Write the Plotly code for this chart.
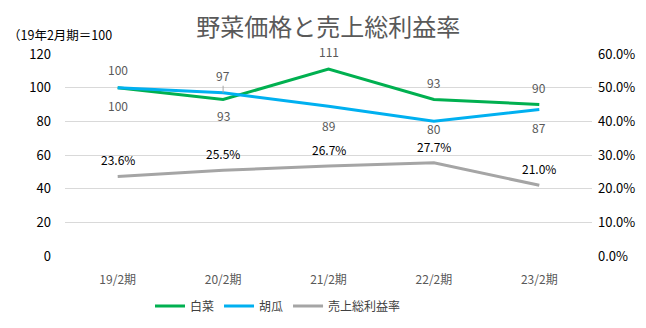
import plotly.graph_objects as go

categories = ["19/2期", "20/2期", "21/2期", "22/2期", "23/2期"]
hakusai = [100, 93, 111, 93, 90]
kyuri = [100, 97, 89, 80, 87]
margin_rate = [0.236, 0.255, 0.267, 0.277, 0.210]

# label offsets (px, negative = above)
hakusai_off = [18, 16, -18, -17, -17]
kyuri_off = [-18, -17, 19, 7, 18]
rate_off = [-17, -17, -17, -16, -17]

FONT = "Noto Sans CJK JP"
LBL = 12
fig = go.Figure()
fig.add_trace(go.Scatter(x=categories, y=hakusai, name="白菜", mode="lines",
                         line=dict(color="#00B050", width=3)))
fig.add_trace(go.Scatter(x=categories, y=kyuri, name="胡瓜", mode="lines",
                         line=dict(color="#00B0F0", width=3)))
fig.add_trace(go.Scatter(x=categories, y=margin_rate, name="売上総利益率", mode="lines",
                         line=dict(color="#A5A5A5", width=3), yaxis="y2"))

ann = []
for c, v, o in zip(categories, hakusai, hakusai_off):
    ann.append(dict(x=c, y=v, xref="x", yref="y", text=str(v), showarrow=False,
                    yshift=-o, font=dict(size=LBL, color="#595959", family=FONT)))
for i, (c, v, o) in enumerate(zip(categories, kyuri, kyuri_off)):
    if i == 1:
        ann.append(dict(x=c, y=v, xref="x", yref="y", text=str(v), showarrow=True,
                        ax=0, ay=o, arrowhead=0, arrowwidth=1, arrowcolor="#A6A6A6",
                        standoff=0, font=dict(size=LBL, color="#595959", family=FONT)))
    else:
        ann.append(dict(x=c, y=v, xref="x", yref="y", text=str(v), showarrow=False,
                        yshift=-o, font=dict(size=LBL, color="#595959", family=FONT)))
for c, v, o in zip(categories, margin_rate, rate_off):
    ann.append(dict(x=c, y=v, xref="x", yref="y2", text=f"{v*100:.1f}%", showarrow=False,
                    yshift=-o, font=dict(size=LBL, color="#000000", family=FONT)))

W, H = 646, 328
L, R, T, B = 65, 54, 54, 72
pw, ph = W - L - R, H - T - B
ann.append(dict(x=(6 - L) / pw, y=(H - B - 35) / ph, xref="paper", yref="paper",
                text="（19年2月期＝100", showarrow=False, xanchor="left", yanchor="middle",
                font=dict(size=12.5, color="#000000", family=FONT)))

fig.update_layout(
    width=W, height=H,
    margin=dict(l=L, r=R, t=T, b=B, autoexpand=False),
    paper_bgcolor="white", plot_bgcolor="white",
    font=dict(family=FONT, color="#595959"),
    title=dict(text="野菜価格と売上総利益率", x=0.508, xanchor="center", y=1 - 28 / H,
               yanchor="middle", font=dict(size=24, color="#595959", family=FONT)),
    xaxis=dict(type="category", range=[-0.5, 4.5], showgrid=False, showline=False,
               ticks="", tickfont=dict(size=12, color="#595959"), ticklabelstandoff=15),
    yaxis=dict(range=[0, 120], dtick=20, showgrid=True, gridcolor="#D9D9D9",
               gridwidth=1, zeroline=False, ticks="", tickfont=dict(size=13, color="#000000"),
               ticklabelstandoff=13),
    yaxis2=dict(range=[0, 0.6], dtick=0.1, tickformat=".1%", overlaying="y", side="right",
                showgrid=False, zeroline=False, ticks="",
                tickfont=dict(size=13, color="#000000"), ticklabelstandoff=5),
    legend=dict(orientation="h", x=(150 - L) / pw, xanchor="left", y=-(306 - (H - B)) / ph,
                yanchor="middle", font=dict(size=12, color="#404040"),
                itemwidth=30, tracegroupgap=0),
    annotations=ann,
    showlegend=True,
)
fig.write_html("out.html")
